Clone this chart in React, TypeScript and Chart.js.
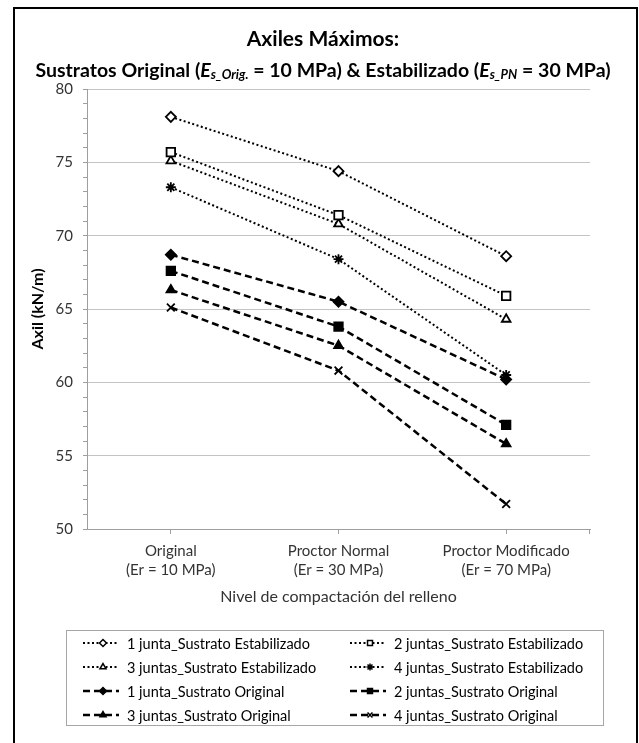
import { useEffect, useRef } from 'react';
import { Chart, registerables } from 'chart.js';
import { drawPoint } from 'chart.js/helpers';

Chart.register(...registerables);

// Compaction level of the backfill (x categories)
const categories = [
  ['Original', '(Er = 10 MPa)'],
  ['Proctor Normal', '(Er = 30 MPa)'],
  ['Proctor Modificado', '(Er = 70 MPa)'],
];

const seriesNames = [
  '1 junta_Sustrato Estabilizado',
  '2 juntas_Sustrato Estabilizado',
  '3 juntas_Sustrato Estabilizado',
  '4 juntas_Sustrato Estabilizado',
  '1 junta_Sustrato Original',
  '2 juntas_Sustrato Original',
  '3 juntas_Sustrato Original',
  '4 juntas_Sustrato Original',
];

// Axil (kN/m)
const junta1Estab = [78.1, 74.4, 68.6];
const juntas2Estab = [75.7, 71.4, 65.9];
const juntas3Estab = [75.1, 70.8, 64.3];
const juntas4Estab = [73.3, 68.4, 60.5];
const junta1Orig = [68.7, 65.5, 60.2];
const juntas2Orig = [67.6, 63.8, 57.1];
const juntas3Orig = [66.3, 62.5, 55.8];
const juntas4Orig = [65.1, 60.8, 51.7];

const yMin = 50;
const yMax = 80;
const yMajorStep = 5;

const FONT = 'Lato, "Open Sans", sans-serif';
const AXIS_GRAY = '#9e9e9e';
const TEXT_GRAY = '#333333';

const seriesValues = [
  junta1Estab, juntas2Estab, juntas3Estab, juntas4Estab,
  junta1Orig, juntas2Orig, juntas3Orig, juntas4Orig,
];

// marker shape, filled or not, dotted (estabilizado) or dashed (original)
const seriesLook = [
  { marker: 'rectRot', filled: false, dotted: true, radius: 5 },
  { marker: 'rect', filled: false, dotted: true, radius: 6 },
  { marker: 'triangle', filled: false, dotted: true, radius: 5 },
  { marker: 'star', filled: false, dotted: true, radius: 5 },
  { marker: 'rectRot', filled: true, dotted: false, radius: 5 },
  { marker: 'rect', filled: true, dotted: false, radius: 6 },
  { marker: 'triangle', filled: true, dotted: false, radius: 5 },
  { marker: 'crossRot', filled: true, dotted: false, radius: 5.5 },
];

// Excel-style tick marks at both ends of the category axis
const axisEnds = {
  id: 'axisEnds',
  afterDraw(chart: Chart) {
    const { ctx, chartArea } = chart;
    ctx.save();
    ctx.strokeStyle = AXIS_GRAY;
    ctx.lineWidth = 1;
    ctx.beginPath();
    ctx.moveTo(chartArea.right - 0.5, chartArea.bottom);
    ctx.lineTo(chartArea.right - 0.5, chartArea.bottom + 5);
    ctx.stroke();
    ctx.restore();
  },
};

const boxLegend = {
  id: 'boxLegend',
  afterDraw(chart: Chart) {
    const { ctx } = chart;
    const cols = [83, 350];
    const rows = [643, 667, 691, 715];
    ctx.save();
    ctx.strokeStyle = '#a6a6a6';
    ctx.lineWidth = 1;
    ctx.setLineDash([]);
    ctx.strokeRect(66.5, 630.5, 537, 95);

    chart.data.datasets.forEach((ds: any, i: number) => {
      const x = cols[i % 2];
      const y = rows[Math.floor(i / 2)];
      ctx.strokeStyle = '#000';
      ctx.lineWidth = ds.borderWidth;
      ctx.setLineDash(ds.borderDash);
      ctx.beginPath();
      ctx.moveTo(x, y);
      ctx.lineTo(x + 36, y);
      ctx.stroke();
      ctx.setLineDash([]);
      ctx.fillStyle = ds.pointBackgroundColor;
      ctx.lineWidth = 1.5;
      drawPoint(ctx, { pointStyle: ds.pointStyle, radius: 3.5, rotation: 0, borderWidth: 1.5 } as any, x + 20, y);
      ctx.fillStyle = '#000';
      ctx.font = `14.5px ${FONT}`;
      ctx.textBaseline = 'middle';
      ctx.textAlign = 'left';
      ctx.fillText(ds.label, x + 44, y + 1);
    });
    ctx.restore();
  },
};

export default function App() {
  const chartRef = useRef<HTMLCanvasElement>(null);

  useEffect(() => {
    if (!chartRef.current) return;

    const chart = new Chart(chartRef.current, {
      type: 'line',
      data: {
        labels: categories,
        datasets: seriesValues.map((values, i) => {
          const look = seriesLook[i];
          return {
            label: seriesNames[i],
            data: values,
            borderColor: '#000',
            borderWidth: look.dotted ? 2 : 2.5,
            borderDash: look.dotted ? [2, 2.5] : [7, 4],
            fill: false,
            tension: 0,
            pointStyle: look.marker,
            pointRadius: look.radius,
            pointBackgroundColor: look.filled ? '#000' : '#fff',
            pointBorderColor: '#000',
            pointBorderWidth: 1.8,
          };
        }),
      },
      options: {
        responsive: false,
        animation: false,
        layout: { padding: { left: 28, top: 89, right: 49, bottom: 137 } },
        plugins: {
          legend: { display: false },
          tooltip: { enabled: false },
        },
        scales: {
          x: {
            type: 'category',
            offset: true,
            afterFit: (scale) => {
              scale.height = 77;
            },
            grid: {
              offset: false,
              drawOnChartArea: false,
              tickLength: 5,
              color: AXIS_GRAY,
            },
            border: { color: AXIS_GRAY },
            ticks: {
              color: TEXT_GRAY,
              font: { family: FONT, size: 15, lineHeight: 1.25 },
              padding: 8,
              maxRotation: 0,
              autoSkip: false,
            },
            title: {
              display: true,
              text: 'Nivel de compactación del relleno',
              color: TEXT_GRAY,
              font: { family: FONT, size: 16 },
              padding: { top: 8, bottom: 0 },
            },
          },
          y: {
            min: yMin,
            max: yMax,
            afterFit: (scale) => {
              scale.width = 59;
            },
            ticks: {
              stepSize: 1,
              autoSkip: false,
              color: TEXT_GRAY,
              font: { family: FONT, size: 15 },
              padding: 10,
              callback: (value) => (Number(value) % yMajorStep === 0 ? String(value) : ''),
            },
            grid: {
              color: (ctx) => (ctx.tick && ctx.tick.value % yMajorStep === 0 ? '#c4c4c4' : 'rgba(0,0,0,0)'),
              tickColor: AXIS_GRAY,
              tickLength: 4,
            },
            border: { color: AXIS_GRAY },
            title: {
              display: true,
              text: 'Axil (kN/m)',
              color: '#000',
              font: { family: FONT, size: 16, weight: 'bold' },
              padding: 0,
            },
          },
        },
      },
      plugins: [axisEnds, boxLegend],
    });

    return () => {
      chart.destroy();
    };
  }, []);

  const sub = { fontSize: '0.66em', position: 'relative' as const, top: 2 };

  return (
    <div>
      <div
        style={{
          position: 'fixed',
          left: 13,
          top: 7,
          width: 621,
          height: 736,
          border: '2px solid #000',
          borderBottom: 'none',
          background: '#fff',
        }}
      />
      <canvas
        ref={chartRef}
        width={639}
        height={743}
        style={{ position: 'fixed', left: 0, top: 0, display: 'block' }}
      />
      <div
        style={{
          position: 'fixed',
          left: 0,
          top: 27,
          width: 646,
          textAlign: 'center',
          fontFamily: FONT,
          fontWeight: 'bold',
          color: '#000',
          lineHeight: 1,
        }}
      >
        <div style={{ fontSize: 21 }}>Axiles Máximos:</div>
        <div style={{ fontSize: 19.5, marginTop: 12 }}>
          Sustratos Original (<i>E</i><i style={sub}>s_Orig.</i> = 10 MPa) &amp; Estabilizado (<i>E</i>
          <i style={sub}>s_PN</i> = 30 MPa)
        </div>
      </div>
    </div>
  );
}
